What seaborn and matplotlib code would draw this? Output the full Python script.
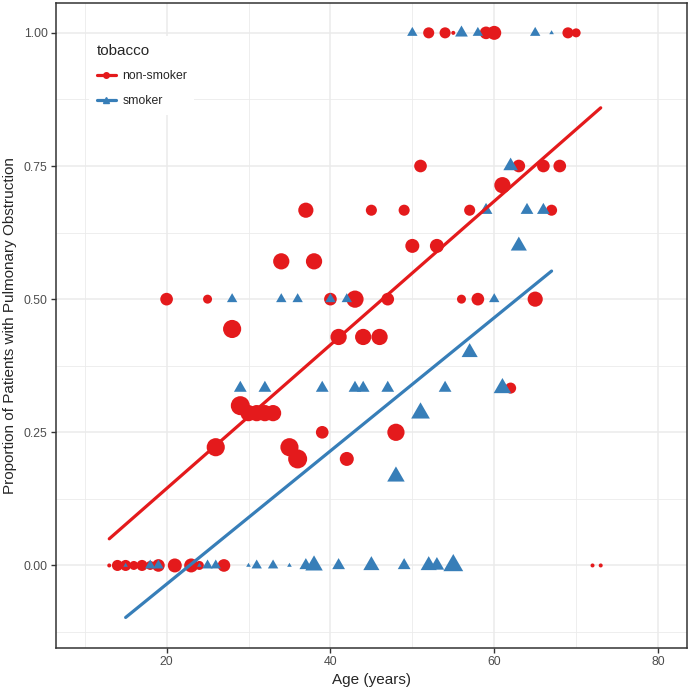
import numpy as np
import pandas as pd
import matplotlib
matplotlib.use("Agg")
import matplotlib.pyplot as plt
from matplotlib.lines import Line2D
from matplotlib.ticker import MultipleLocator, FormatStrFormatter
import seaborn as sns

sns.set_style("white")
plt.rcParams['font.family'] = ['Liberation Sans', 'DejaVu Sans']

# non-smokers: age, proportion obstructed, number of patients
ns_age = [13, 14, 15, 16, 17, 18, 19, 20, 21, 23, 24, 25, 26, 27, 28, 29, 30, 31, 32, 33,
          34, 35, 36, 37, 38, 39, 40, 41, 42, 43, 44, 45, 46, 47, 48, 49, 50, 51, 52, 53, 54,
          55, 56, 57, 58, 59, 60, 61, 62, 63, 65, 66, 67, 68, 69, 70, 72, 73]
ns_prop = [0.0, 0.0, 0.0, 0.0, 0.0, 0.0, 0.0, 0.5, 0.0, 0.0, 0.0, 0.5, 0.222, 0.0, 0.444,
           0.3, 0.286, 0.286, 0.286, 0.286, 0.571, 0.222, 0.2, 0.667, 0.571, 0.25, 0.5, 0.429,
           0.2, 0.5, 0.429, 0.667, 0.429, 0.5, 0.25, 0.667, 0.6, 0.75, 1.0, 0.6, 1.0, 1.0, 0.5,
           0.667, 0.5, 1.0, 1.0, 0.714, 0.333, 0.75, 0.5, 0.75, 0.667, 0.75, 1.0, 1.0, 0.0, 0.0]
ns_n = [1, 3, 3, 2, 3, 2, 4, 4, 5, 5, 2, 2, 9, 4, 9, 10, 7, 7, 7, 7, 7, 9, 10, 6, 7, 4, 4,
        7, 5, 8, 7, 3, 7, 4, 8, 3, 5, 4, 3, 5, 3, 1, 2, 3, 4, 4, 5, 7, 3, 4, 6, 4, 3, 4, 3, 2, 1, 1]

# smokers
sm_age = [15, 18, 19, 24, 25, 26, 28, 29, 30, 31, 32, 33, 34, 35, 36, 37, 38, 39, 40, 41, 42,
          43, 44, 45, 47, 48, 49, 50, 51, 52, 53, 54, 55, 56, 57, 58, 59, 60, 61, 62, 63, 64,
          65, 66, 67]
sm_prop = [0.0, 0.0, 0.0, 0.0, 0.0, 0.0, 0.5, 0.333, 0.0, 0.0, 0.333, 0.0, 0.5, 0.0, 0.5, 0.0,
           0.0, 0.333, 0.5, 0.0, 0.5, 0.333, 0.333, 0.0, 0.333, 0.167, 0.0, 1.0, 0.286, 0.0,
           0.0, 0.333, 0.0, 1.0, 0.4, 1.0, 0.667, 0.5, 0.333, 0.75, 0.6, 0.667, 1.0, 0.667, 1.0]
sm_n = [1, 2, 2, 1, 2, 2, 2, 3, 1, 2, 3, 2, 2, 1, 2, 3, 6, 3, 2, 3, 2, 3, 3, 5, 3, 6, 3, 2, 7,
        5, 4, 3, 8, 3, 5, 2, 3, 2, 6, 4, 5, 3, 2, 3, 1]

red = "#E41A1C"
blue = "#377EB8"

ns = pd.DataFrame({"age": ns_age, "prop": ns_prop, "n": ns_n})
sm = pd.DataFrame({"age": sm_age, "prop": sm_prop, "n": sm_n})

# point diameter grows with sqrt of n (px -> pt at 100 dpi)
all_n = sorted(set(ns_n) | set(sm_n))
diam = {k: 0.72 * (4 + 5 * np.sqrt(k - 1)) for k in all_n}
circle_sizes = {k: d ** 2 for k, d in diam.items()}
tri_sizes = {k: (1.33 * d) ** 2 for k, d in diam.items()}
tri = [(0, 0.577), (-0.5, -0.289), (0.5, -0.289)]

fig = plt.figure(figsize=(6.89, 6.89), dpi=100)
ax = fig.add_axes([0.0813, 0.0595, 0.9154, 0.9361])

sns.scatterplot(data=ns, x="age", y="prop", size="n", sizes=circle_sizes, color=red,
                marker="o", linewidth=0, legend=False, ax=ax, zorder=3)
sns.scatterplot(data=sm, x="age", y="prop", size="n", sizes=tri_sizes, color=blue,
                marker=tri, linewidth=0, legend=False, ax=ax, zorder=3)

# weighted straight-line fits, one per group
for d, col in [(ns, red), (sm, blue)]:
    b, a = np.polyfit(d["age"], d["prop"], 1, w=np.sqrt(d["n"]))
    xs = np.array([d["age"].min(), d["age"].max()])
    sns.lineplot(x=xs, y=a + b * xs, color=col, lw=2.3, ax=ax, zorder=4)

ax.set_xlim(6.5, 83.5)
ax.set_ylim(-0.155, 1.056)
ax.xaxis.set_major_locator(MultipleLocator(20))
ax.xaxis.set_minor_locator(MultipleLocator(10))
ax.yaxis.set_major_locator(MultipleLocator(0.25))
ax.yaxis.set_minor_locator(MultipleLocator(0.125))
ax.yaxis.set_major_formatter(FormatStrFormatter("%.2f"))
ax.grid(which="major", color="#EBEBEB", lw=1.1, zorder=0)
ax.grid(which="minor", color="#EBEBEB", lw=0.6, zorder=0)
ax.set_axisbelow(True)
for s in ax.spines.values():
    s.set_color("#333333")
    s.set_linewidth(1.1)
ax.tick_params(which="major", length=3.5, width=1, color="#333333", labelsize=8.8,
               labelcolor="#4D4D4D", left=True, bottom=True, pad=2.5)
ax.tick_params(which="minor", length=0)
ax.set_xlabel("Age (years)", fontsize=11, labelpad=3)
ax.set_ylabel("Proportion of Patients with Pulmonary Obstruction", fontsize=11, labelpad=5)

handles = [Line2D([], [], color=red, lw=2.3, marker="o", markersize=4),
           Line2D([], [], color=blue, lw=2.3, marker="^", markersize=4)]
leg = ax.legend(handles, ["non-smoker", "smoker"], title="tobacco", loc="upper left",
                bbox_to_anchor=(0.043, 0.958), fontsize=8.8, title_fontsize=11,
                frameon=True, facecolor="white", edgecolor="none", framealpha=1,
                handlelength=1.6, labelspacing=1.05, borderpad=0.6, handletextpad=0.5)
leg._legend_box.align = "left"
leg.set_zorder(5)

fig.savefig("out.png", dpi=100)
